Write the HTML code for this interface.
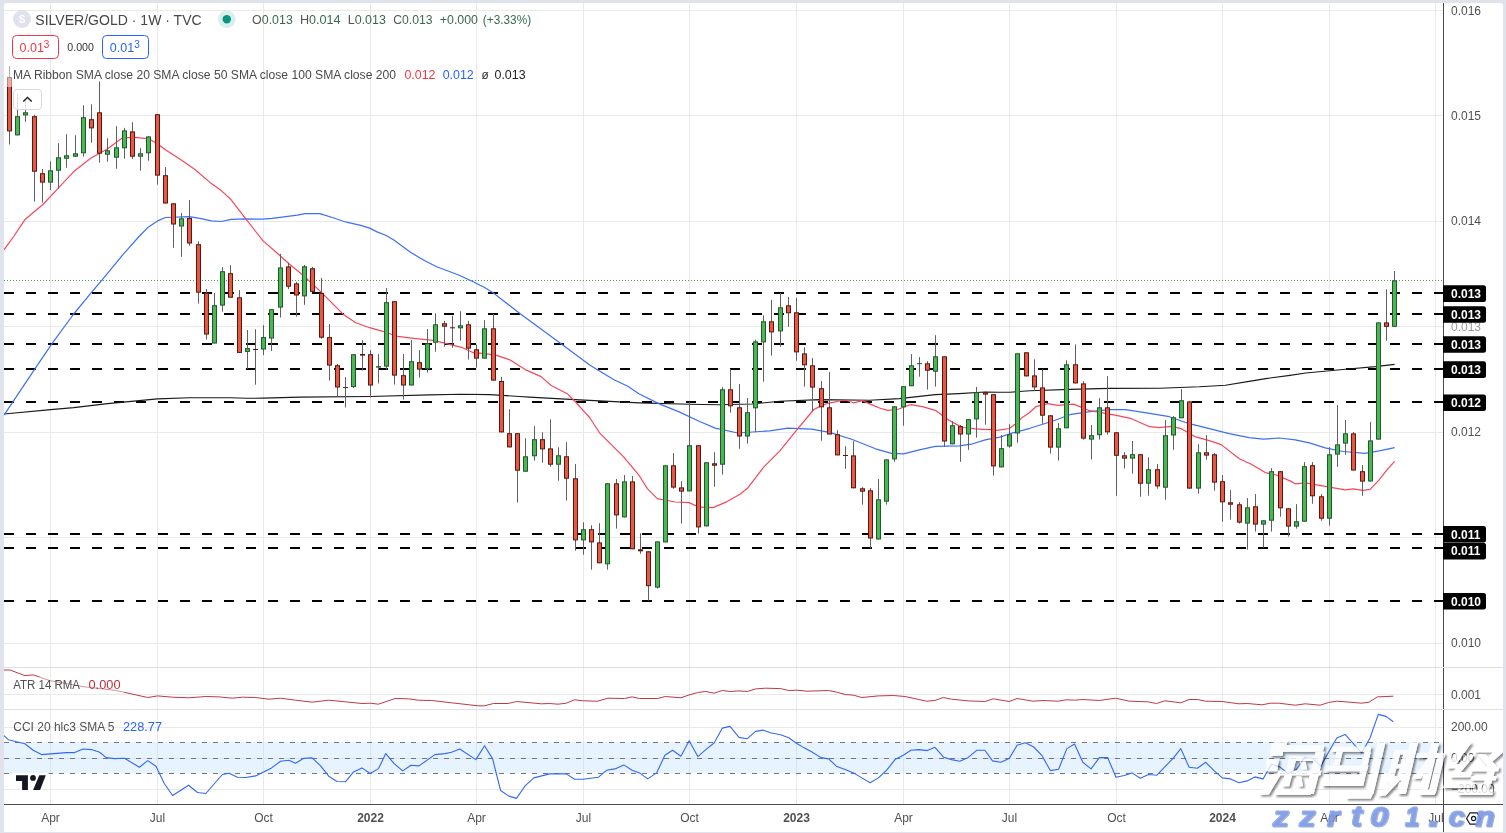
<!DOCTYPE html>
<html><head><meta charset="utf-8"><title>SILVER/GOLD</title>
<style>
html,body{margin:0;padding:0;background:#e0e3eb;font-family:"Liberation Sans",sans-serif;}
#wrap{position:relative;width:1506px;height:833px;overflow:hidden;background:#e0e3eb;}
</style></head><body><div id="wrap">
<svg width="1506" height="833" viewBox="0 0 1506 833" style="position:absolute;left:0;top:0;will-change:transform;font-family:'Liberation Sans',sans-serif">
<defs><clipPath id="cp"><rect x="4" y="3" width="1439" height="801"/></clipPath><filter id="ws" x="-10%" y="-10%" width="130%" height="130%"><feDropShadow dx="2.2" dy="2.2" stdDeviation="1.1" flood-color="#000" flood-opacity="0.55"/></filter></defs>
<path d="M4,832V6a3,3 0 0 1 3,-3H1500a3,3 0 0 1 3,3V832Z" fill="#fff"/>
<rect x="50" y="3" width="1" height="801" fill="#e9e9ea"/><rect x="157" y="3" width="1" height="801" fill="#e9e9ea"/><rect x="263" y="3" width="1" height="801" fill="#e9e9ea"/><rect x="370" y="3" width="1" height="801" fill="#e9e9ea"/><rect x="476" y="3" width="1" height="801" fill="#e9e9ea"/><rect x="583" y="3" width="1" height="801" fill="#e9e9ea"/><rect x="689" y="3" width="1" height="801" fill="#e9e9ea"/><rect x="796" y="3" width="1" height="801" fill="#e9e9ea"/><rect x="903" y="3" width="1" height="801" fill="#e9e9ea"/><rect x="1009" y="3" width="1" height="801" fill="#e9e9ea"/><rect x="1116" y="3" width="1" height="801" fill="#e9e9ea"/><rect x="1222" y="3" width="1" height="801" fill="#e9e9ea"/><rect x="1329" y="3" width="1" height="801" fill="#e9e9ea"/><rect x="1435" y="3" width="1" height="801" fill="#e9e9ea"/><rect x="4" y="10" width="1439" height="1" fill="#e9e9ea"/><rect x="4" y="115" width="1439" height="1" fill="#e9e9ea"/><rect x="4" y="221" width="1439" height="1" fill="#e9e9ea"/><rect x="4" y="326" width="1439" height="1" fill="#e9e9ea"/><rect x="4" y="432" width="1439" height="1" fill="#e9e9ea"/><rect x="4" y="537" width="1439" height="1" fill="#e9e9ea"/><rect x="4" y="643" width="1439" height="1" fill="#e9e9ea"/><rect x="4" y="694" width="1439" height="1" fill="#e9e9ea"/><rect x="4" y="727" width="1439" height="1" fill="#e9e9ea"/><rect x="4" y="758" width="1439" height="1" fill="#e9e9ea"/><rect x="4" y="789" width="1439" height="1" fill="#e9e9ea"/>
<rect x="4" y="742" width="1439" height="31.5" fill="#e7f3fe"/>
<rect x="50" y="742" width="1" height="31.5" fill="#d9e4ee"/>
<rect x="157" y="742" width="1" height="31.5" fill="#d9e4ee"/>
<rect x="263" y="742" width="1" height="31.5" fill="#d9e4ee"/>
<rect x="370" y="742" width="1" height="31.5" fill="#d9e4ee"/>
<rect x="476" y="742" width="1" height="31.5" fill="#d9e4ee"/>
<rect x="583" y="742" width="1" height="31.5" fill="#d9e4ee"/>
<rect x="689" y="742" width="1" height="31.5" fill="#d9e4ee"/>
<rect x="796" y="742" width="1" height="31.5" fill="#d9e4ee"/>
<rect x="903" y="742" width="1" height="31.5" fill="#d9e4ee"/>
<rect x="1009" y="742" width="1" height="31.5" fill="#d9e4ee"/>
<rect x="1116" y="742" width="1" height="31.5" fill="#d9e4ee"/>
<rect x="1222" y="742" width="1" height="31.5" fill="#d9e4ee"/>
<rect x="1329" y="742" width="1" height="31.5" fill="#d9e4ee"/>
<rect x="1435" y="742" width="1" height="31.5" fill="#d9e4ee"/>
<rect x="4" y="758" width="1439" height="1" fill="#dbe3ec"/>
<line x1="4" y1="742.5" x2="1443" y2="742.5" stroke="#73768a" stroke-width="1" stroke-dasharray="5 6"/>
<line x1="4" y1="758.5" x2="1443" y2="758.5" stroke="#73768a" stroke-width="1" stroke-dasharray="5 6"/>
<line x1="4" y1="773.5" x2="1443" y2="773.5" stroke="#73768a" stroke-width="1" stroke-dasharray="5 6"/>
<g clip-path="url(#cp)">
<line x1="4" y1="280.5" x2="1443" y2="280.5" stroke="#3aa640" stroke-width="1" stroke-dasharray="1 2"/>
<line x1="4" y1="293" x2="1443" y2="293" stroke="#000" stroke-width="2" stroke-dasharray="10 12"/>
<line x1="4" y1="314" x2="1443" y2="314" stroke="#000" stroke-width="2" stroke-dasharray="10 12"/>
<line x1="4" y1="344" x2="1443" y2="344" stroke="#000" stroke-width="2" stroke-dasharray="10 12"/>
<line x1="4" y1="369" x2="1443" y2="369" stroke="#000" stroke-width="2" stroke-dasharray="10 12"/>
<line x1="4" y1="402" x2="1443" y2="402" stroke="#000" stroke-width="2" stroke-dasharray="10 12"/>
<line x1="4" y1="534" x2="1443" y2="534" stroke="#000" stroke-width="2" stroke-dasharray="10 12"/>
<line x1="4" y1="548" x2="1443" y2="548" stroke="#000" stroke-width="2" stroke-dasharray="10 12"/>
<line x1="4" y1="601" x2="1443" y2="601" stroke="#000" stroke-width="2" stroke-dasharray="10 12"/>
<polyline points="4.0,414.0 50.8,409.6 73.7,407.6 107.6,403.6 157.5,398.9 189.4,397.7 229.2,397.7 247.2,398.3 263.1,398.1 300.0,397.1 369.7,396.5 429.5,394.9 461.4,394.3 489.8,394.6 519.7,396.5 529.2,397.1 579.5,399.9 639.3,402.9 689.2,404.3 719.1,404.7 740.0,404.3 751.8,404.0 779.7,401.2 819.6,399.6 869.4,400.2 899.3,398.6 935.2,394.6 959.1,393.6 985.0,392.0 1000.0,392.2 1009.9,392.2 1029.9,390.8 1069.7,389.4 1109.6,388.4 1159.4,388.2 1199.3,386.8 1225.5,385.2 1249.1,381.4 1265.8,378.6 1290.0,375.4 1305.7,373.0 1345.5,369.2 1375.4,366.6 1394.6,364.4" fill="none" stroke="#1a1a1a" stroke-width="1.1" stroke-linejoin="round" />
<polyline points="4.0,415.2 34.9,368.8 51.8,343.9 73.7,314.0 91.7,292.1 101.7,280.3 123.6,253.8 139.5,236.0 148.5,226.9 157.5,220.9 165.4,217.5 189.4,216.6 201.3,218.7 211.3,220.9 221.2,221.5 231.2,219.3 245.2,218.9 263.1,219.2 272.0,218.3 280.0,217.3 297.3,215.2 305.2,213.6 319.8,213.6 333.1,217.8 346.4,222.2 359.7,225.1 369.0,227.9 377.0,231.9 386.2,235.5 394.2,240.2 410.1,252.1 424.8,260.7 436.7,266.7 458.0,274.7 471.2,280.7 480.0,285.3 484.3,287.3 493.3,292.9 520.2,313.8 561.1,343.7 590.0,365.2 614.4,380.0 627.4,386.0 639.3,394.0 659.3,403.9 679.2,411.9 699.1,421.3 715.1,428.1 737.9,433.0 759.9,431.5 769.8,430.9 787.8,428.2 811.6,429.2 829.7,432.4 851.6,439.3 875.5,448.8 891.5,453.4 903.4,453.8 919.4,449.8 935.3,446.4 959.3,445.8 971.2,444.2 985.2,439.9 1000.0,437.1 1009.9,433.7 1029.9,428.3 1053.8,420.7 1069.7,414.7 1089.7,411.7 1109.6,409.7 1125.5,409.7 1149.5,413.3 1169.4,416.7 1189.3,423.7 1209.3,428.7 1229.2,433.6 1249.1,437.6 1263.2,439.2 1279.2,438.0 1295.3,439.9 1309.3,442.9 1325.2,447.9 1343.2,451.5 1365.1,453.3 1379.1,450.9 1394.6,447.6" fill="none" stroke="#3d6ff5" stroke-width="1.2" stroke-linejoin="round" />
<polyline points="4.0,249.8 14.0,236.0 25.3,219.2 42.9,204.5 57.8,188.6 74.7,170.7 90.7,158.3 107.6,148.7 122.6,137.8 135.5,137.4 148.5,138.8 157.5,143.7 165.4,149.7 179.4,158.7 195.3,169.7 211.3,183.6 221.2,190.6 231.2,199.8 245.2,218.2 263.1,240.9 279.0,254.8 289.0,263.8 300.0,272.8 306.0,277.9 321.9,292.9 343.8,314.8 355.8,322.8 369.7,327.7 383.7,331.7 397.6,336.3 413.6,338.3 433.5,340.3 449.5,344.3 461.4,347.3 473.4,352.7 485.3,353.6 497.3,355.6 509.3,359.6 525.2,369.6 541.1,376.6 551.1,385.5 567.3,393.7 577.0,403.5 583.5,410.9 590.0,418.0 599.5,432.8 623.4,456.7 639.3,475.7 647.3,488.6 657.3,498.6 675.2,502.0 689.2,502.6 699.1,507.2 713.1,507.6 727.0,501.6 740.0,494.3 748.0,487.7 763.9,466.8 779.9,450.8 796.8,429.9 813.8,409.5 819.6,406.6 825.7,404.0 831.6,402.6 839.7,401.0 845.5,400.2 853.6,402.8 862.5,400.6 871.4,404.6 879.5,408.0 887.5,410.3 897.4,409.5 909.4,405.0 911.3,404.6 923.3,406.8 935.3,410.3 947.3,418.9 949.2,420.5 959.3,425.9 963.1,427.5 975.2,428.9 979.1,429.1 990.0,429.7 997.1,430.3 1009.5,428.5 1019.1,420.9 1021.9,417.7 1029.0,413.0 1035.8,406.7 1047.8,403.7 1057.8,405.3 1073.7,404.1 1089.7,410.7 1105.6,413.3 1117.6,415.7 1131.5,418.7 1149.5,426.7 1159.4,427.7 1171.4,426.3 1181.3,428.7 1195.7,436.9 1209.3,440.6 1221.2,444.6 1239.3,458.7 1251.3,464.2 1265.2,472.6 1276.0,475.0 1290.0,480.9 1295.3,483.8 1305.3,482.8 1325.2,486.4 1345.2,489.8 1353.1,488.8 1363.1,490.4 1370.1,489.4 1379.1,479.8 1387.0,469.8 1394.6,461.3" fill="none" stroke="#f5475a" stroke-width="1.2" stroke-linejoin="round" />
<rect x="9" y="66.0" width="1" height="78.5" fill="#606066"/><rect x="7.5" y="77.5" width="4" height="53.4" fill="#e15a48" stroke="#5f140c" stroke-width="1"/><rect x="17" y="94.0" width="1" height="41.4" fill="#606066"/><rect x="15.5" y="116.7" width="4" height="18.2" fill="#4db552" stroke="#1e5a30" stroke-width="1"/><rect x="25" y="100.0" width="1" height="21.8" fill="#606066"/><rect x="23.5" y="112.8" width="4" height="2.1" fill="#4db552" stroke="#1e5a30" stroke-width="1"/><rect x="34" y="114.8" width="1" height="86.8" fill="#606066"/><rect x="32.5" y="116.7" width="4" height="54.5" fill="#e15a48" stroke="#5f140c" stroke-width="1"/><rect x="42" y="169.0" width="1" height="33.5" fill="#606066"/><rect x="40.5" y="173.7" width="4" height="8.4" fill="#e15a48" stroke="#5f140c" stroke-width="1"/><rect x="50" y="161.3" width="1" height="28.7" fill="#606066"/><rect x="48.5" y="170.8" width="4" height="11.3" fill="#4db552" stroke="#1e5a30" stroke-width="1"/><rect x="58" y="143.2" width="1" height="45.4" fill="#606066"/><rect x="56.5" y="157.8" width="4" height="12.4" fill="#4db552" stroke="#1e5a30" stroke-width="1"/><rect x="66" y="134.2" width="1" height="33.5" fill="#606066"/><rect x="64.5" y="155.8" width="4" height="2.4" fill="#4db552" stroke="#1e5a30" stroke-width="1"/><rect x="75" y="135.2" width="1" height="21.5" fill="#606066"/><rect x="73.5" y="153.8" width="4" height="2.4" fill="#4db552" stroke="#1e5a30" stroke-width="1"/><rect x="83" y="105.3" width="1" height="51.4" fill="#606066"/><rect x="81.5" y="117.7" width="4" height="35.1" fill="#4db552" stroke="#1e5a30" stroke-width="1"/><rect x="91" y="104.3" width="1" height="38.5" fill="#606066"/><rect x="89.5" y="119.7" width="4" height="8.2" fill="#e15a48" stroke="#5f140c" stroke-width="1"/><rect x="99" y="81.4" width="1" height="81.3" fill="#606066"/><rect x="97.5" y="112.8" width="4" height="40.4" fill="#e15a48" stroke="#5f140c" stroke-width="1"/><rect x="107" y="138.2" width="1" height="23.5" fill="#606066"/><rect x="105.5" y="150.8" width="4" height="3.4" fill="#4db552" stroke="#1e5a30" stroke-width="1"/><rect x="116" y="126.2" width="1" height="42.5" fill="#606066"/><rect x="114.5" y="147.8" width="4" height="9.4" fill="#4db552" stroke="#1e5a30" stroke-width="1"/><rect x="124" y="127.8" width="1" height="30.9" fill="#606066"/><rect x="122.5" y="130.9" width="4" height="16.9" fill="#4db552" stroke="#1e5a30" stroke-width="1"/><rect x="132" y="122.2" width="1" height="36.9" fill="#606066"/><rect x="130.5" y="131.9" width="4" height="24.3" fill="#e15a48" stroke="#5f140c" stroke-width="1"/><rect x="140" y="148.1" width="1" height="22.6" fill="#606066"/><rect x="138.5" y="153.8" width="4" height="2.4" fill="#4db552" stroke="#1e5a30" stroke-width="1"/><rect x="148" y="136.4" width="1" height="24.3" fill="#606066"/><rect x="146.5" y="136.9" width="4" height="15.9" fill="#4db552" stroke="#1e5a30" stroke-width="1"/><rect x="157" y="114.2" width="1" height="70.4" fill="#606066"/><rect x="155.5" y="114.7" width="4" height="60.4" fill="#e15a48" stroke="#5f140c" stroke-width="1"/><rect x="165" y="167.1" width="1" height="36.4" fill="#606066"/><rect x="163.5" y="175.7" width="4" height="27.3" fill="#e15a48" stroke="#5f140c" stroke-width="1"/><rect x="173" y="203.3" width="1" height="44.5" fill="#606066"/><rect x="171.5" y="203.8" width="4" height="20.2" fill="#e15a48" stroke="#5f140c" stroke-width="1"/><rect x="181" y="213.0" width="1" height="43.8" fill="#606066"/><rect x="179.5" y="218.8" width="4" height="7.2" fill="#4db552" stroke="#1e5a30" stroke-width="1"/><rect x="189" y="200.0" width="1" height="45.8" fill="#606066"/><rect x="187.5" y="218.4" width="4" height="24.6" fill="#e15a48" stroke="#5f140c" stroke-width="1"/><rect x="198" y="241.3" width="1" height="62.3" fill="#606066"/><rect x="196.5" y="244.7" width="4" height="47.5" fill="#e15a48" stroke="#5f140c" stroke-width="1"/><rect x="206" y="289.1" width="1" height="50.4" fill="#606066"/><rect x="204.5" y="293.2" width="4" height="40.8" fill="#e15a48" stroke="#5f140c" stroke-width="1"/><rect x="214" y="293.1" width="1" height="50.4" fill="#606066"/><rect x="212.5" y="305.7" width="4" height="37.3" fill="#4db552" stroke="#1e5a30" stroke-width="1"/><rect x="222" y="267.2" width="1" height="44.4" fill="#606066"/><rect x="220.5" y="271.7" width="4" height="33.4" fill="#4db552" stroke="#1e5a30" stroke-width="1"/><rect x="230" y="265.2" width="1" height="32.5" fill="#606066"/><rect x="228.5" y="273.7" width="4" height="23.5" fill="#e15a48" stroke="#5f140c" stroke-width="1"/><rect x="239" y="290.1" width="1" height="62.8" fill="#606066"/><rect x="237.5" y="297.8" width="4" height="54.6" fill="#e15a48" stroke="#5f140c" stroke-width="1"/><rect x="247" y="330.0" width="1" height="38.8" fill="#606066"/><rect x="245.5" y="348.6" width="4" height="2.8" fill="#4db552" stroke="#1e5a30" stroke-width="1"/><rect x="255" y="329.2" width="1" height="55.5" fill="#606066"/><rect x="253" y="349.0" width="5" height="1.0" fill="#5f140c"/><rect x="263" y="325.2" width="1" height="29.9" fill="#606066"/><rect x="261.5" y="337.6" width="4" height="11.4" fill="#4db552" stroke="#1e5a30" stroke-width="1"/><rect x="271" y="309.2" width="1" height="41.7" fill="#606066"/><rect x="269.5" y="309.7" width="4" height="28.3" fill="#4db552" stroke="#1e5a30" stroke-width="1"/><rect x="280" y="253.8" width="1" height="63.8" fill="#606066"/><rect x="278.5" y="267.9" width="4" height="39.2" fill="#4db552" stroke="#1e5a30" stroke-width="1"/><rect x="288" y="262.8" width="1" height="26.3" fill="#606066"/><rect x="286.5" y="266.9" width="4" height="19.3" fill="#e15a48" stroke="#5f140c" stroke-width="1"/><rect x="296" y="281.8" width="1" height="34.9" fill="#606066"/><rect x="294.5" y="283.9" width="4" height="11.1" fill="#e15a48" stroke="#5f140c" stroke-width="1"/><rect x="304" y="265.0" width="1" height="39.8" fill="#606066"/><rect x="302.5" y="266.8" width="4" height="29.1" fill="#4db552" stroke="#1e5a30" stroke-width="1"/><rect x="312" y="266.9" width="1" height="25.0" fill="#606066"/><rect x="310.5" y="268.8" width="4" height="22.6" fill="#e15a48" stroke="#5f140c" stroke-width="1"/><rect x="321" y="277.9" width="1" height="60.8" fill="#606066"/><rect x="319.5" y="293.4" width="4" height="43.8" fill="#e15a48" stroke="#5f140c" stroke-width="1"/><rect x="329" y="324.1" width="1" height="56.5" fill="#606066"/><rect x="327.5" y="337.6" width="4" height="27.5" fill="#e15a48" stroke="#5f140c" stroke-width="1"/><rect x="337" y="364.0" width="1" height="32.5" fill="#606066"/><rect x="335.5" y="365.7" width="4" height="21.3" fill="#e15a48" stroke="#5f140c" stroke-width="1"/><rect x="345" y="377.2" width="1" height="30.3" fill="#606066"/><rect x="343" y="387.1" width="5" height="1.0" fill="#5f140c"/><rect x="353" y="354.2" width="1" height="33.8" fill="#606066"/><rect x="351.5" y="354.7" width="4" height="31.9" fill="#4db552" stroke="#1e5a30" stroke-width="1"/><rect x="362" y="340.1" width="1" height="30.5" fill="#606066"/><rect x="360.5" y="354.5" width="4" height="0.6" fill="#e15a48" stroke="#5f140c" stroke-width="1"/><rect x="370" y="350.1" width="1" height="47.4" fill="#606066"/><rect x="368.5" y="354.7" width="4" height="30.3" fill="#e15a48" stroke="#5f140c" stroke-width="1"/><rect x="378" y="354.0" width="1" height="29.5" fill="#606066"/><rect x="376" y="366.2" width="5" height="1.4" fill="#1e5a30"/><rect x="386" y="287.9" width="1" height="81.7" fill="#606066"/><rect x="384.5" y="302.7" width="4" height="63.4" fill="#4db552" stroke="#1e5a30" stroke-width="1"/><rect x="394" y="301.2" width="1" height="83.3" fill="#606066"/><rect x="392.5" y="301.7" width="4" height="73.4" fill="#e15a48" stroke="#5f140c" stroke-width="1"/><rect x="403" y="354.0" width="1" height="45.5" fill="#606066"/><rect x="401.5" y="375.7" width="4" height="9.3" fill="#e15a48" stroke="#5f140c" stroke-width="1"/><rect x="411" y="340.1" width="1" height="45.4" fill="#606066"/><rect x="409.5" y="361.7" width="4" height="23.3" fill="#4db552" stroke="#1e5a30" stroke-width="1"/><rect x="419" y="350.1" width="1" height="27.5" fill="#606066"/><rect x="417.5" y="362.7" width="4" height="6.4" fill="#e15a48" stroke="#5f140c" stroke-width="1"/><rect x="427" y="329.1" width="1" height="43.5" fill="#606066"/><rect x="425.5" y="343.8" width="4" height="24.9" fill="#4db552" stroke="#1e5a30" stroke-width="1"/><rect x="435" y="313.2" width="1" height="38.5" fill="#606066"/><rect x="433.5" y="324.8" width="4" height="17.4" fill="#4db552" stroke="#1e5a30" stroke-width="1"/><rect x="444" y="320.8" width="1" height="25.9" fill="#606066"/><rect x="442.5" y="323.8" width="4" height="2.4" fill="#e15a48" stroke="#5f140c" stroke-width="1"/><rect x="452" y="315.8" width="1" height="31.9" fill="#606066"/><rect x="450" y="327.3" width="5" height="1.0" fill="#5f140c"/><rect x="460" y="311.2" width="1" height="29.5" fill="#606066"/><rect x="458.5" y="325.8" width="4" height="2.0" fill="#4db552" stroke="#1e5a30" stroke-width="1"/><rect x="468" y="320.8" width="1" height="38.8" fill="#606066"/><rect x="466.5" y="324.8" width="4" height="23.4" fill="#e15a48" stroke="#5f140c" stroke-width="1"/><rect x="476" y="344.7" width="1" height="22.9" fill="#606066"/><rect x="474.5" y="349.8" width="4" height="8.3" fill="#e15a48" stroke="#5f140c" stroke-width="1"/><rect x="484" y="320.2" width="1" height="38.4" fill="#606066"/><rect x="482.5" y="328.8" width="4" height="29.3" fill="#4db552" stroke="#1e5a30" stroke-width="1"/><rect x="493" y="314.2" width="1" height="66.4" fill="#606066"/><rect x="491.5" y="328.8" width="4" height="51.3" fill="#e15a48" stroke="#5f140c" stroke-width="1"/><rect x="501" y="377.0" width="1" height="55.4" fill="#606066"/><rect x="499.5" y="381.5" width="4" height="50.4" fill="#e15a48" stroke="#5f140c" stroke-width="1"/><rect x="509" y="409.3" width="1" height="38.1" fill="#606066"/><rect x="507.5" y="433.7" width="4" height="13.2" fill="#e15a48" stroke="#5f140c" stroke-width="1"/><rect x="517" y="433.2" width="1" height="69.4" fill="#606066"/><rect x="515.5" y="433.7" width="4" height="36.5" fill="#e15a48" stroke="#5f140c" stroke-width="1"/><rect x="525" y="438.2" width="1" height="33.5" fill="#606066"/><rect x="523.5" y="456.8" width="4" height="14.4" fill="#4db552" stroke="#1e5a30" stroke-width="1"/><rect x="534" y="426.2" width="1" height="34.5" fill="#606066"/><rect x="532.5" y="439.7" width="4" height="16.1" fill="#4db552" stroke="#1e5a30" stroke-width="1"/><rect x="542" y="432.2" width="1" height="30.5" fill="#606066"/><rect x="540.5" y="439.7" width="4" height="9.2" fill="#e15a48" stroke="#5f140c" stroke-width="1"/><rect x="550" y="419.3" width="1" height="47.4" fill="#606066"/><rect x="548.5" y="448.9" width="4" height="15.3" fill="#e15a48" stroke="#5f140c" stroke-width="1"/><rect x="558" y="447.2" width="1" height="33.5" fill="#606066"/><rect x="556.5" y="455.8" width="4" height="8.4" fill="#4db552" stroke="#1e5a30" stroke-width="1"/><rect x="566" y="442.2" width="1" height="58.4" fill="#606066"/><rect x="564.5" y="456.8" width="4" height="21.4" fill="#e15a48" stroke="#5f140c" stroke-width="1"/><rect x="575" y="464.1" width="1" height="86.6" fill="#606066"/><rect x="573.5" y="478.8" width="4" height="61.1" fill="#e15a48" stroke="#5f140c" stroke-width="1"/><rect x="583" y="522.2" width="1" height="32.5" fill="#606066"/><rect x="581.5" y="529.7" width="4" height="10.2" fill="#4db552" stroke="#1e5a30" stroke-width="1"/><rect x="591" y="525.2" width="1" height="44.5" fill="#606066"/><rect x="589.5" y="529.7" width="4" height="12.2" fill="#e15a48" stroke="#5f140c" stroke-width="1"/><rect x="599" y="523.2" width="1" height="40.1" fill="#606066"/><rect x="597.5" y="542.9" width="4" height="19.9" fill="#e15a48" stroke="#5f140c" stroke-width="1"/><rect x="607" y="483.3" width="1" height="86.4" fill="#606066"/><rect x="605.5" y="483.8" width="4" height="80.0" fill="#4db552" stroke="#1e5a30" stroke-width="1"/><rect x="616" y="479.0" width="1" height="49.6" fill="#606066"/><rect x="614.5" y="483.8" width="4" height="31.1" fill="#e15a48" stroke="#5f140c" stroke-width="1"/><rect x="624" y="475.0" width="1" height="42.4" fill="#606066"/><rect x="622.5" y="481.9" width="4" height="35.0" fill="#4db552" stroke="#1e5a30" stroke-width="1"/><rect x="632" y="476.0" width="1" height="73.3" fill="#606066"/><rect x="630.5" y="481.9" width="4" height="66.9" fill="#e15a48" stroke="#5f140c" stroke-width="1"/><rect x="640" y="533.2" width="1" height="20.5" fill="#606066"/><rect x="638.5" y="549.8" width="4" height="1.0" fill="#e15a48" stroke="#5f140c" stroke-width="1"/><rect x="648" y="551.3" width="1" height="49.3" fill="#606066"/><rect x="646.5" y="551.8" width="4" height="33.9" fill="#e15a48" stroke="#5f140c" stroke-width="1"/><rect x="657" y="541.4" width="1" height="47.2" fill="#606066"/><rect x="655.5" y="541.9" width="4" height="45.2" fill="#4db552" stroke="#1e5a30" stroke-width="1"/><rect x="665" y="465.3" width="1" height="77.1" fill="#606066"/><rect x="663.5" y="465.8" width="4" height="76.1" fill="#4db552" stroke="#1e5a30" stroke-width="1"/><rect x="673" y="453.2" width="1" height="35.6" fill="#606066"/><rect x="671.5" y="465.8" width="4" height="21.3" fill="#e15a48" stroke="#5f140c" stroke-width="1"/><rect x="681" y="481.2" width="1" height="42.4" fill="#606066"/><rect x="679.5" y="487.9" width="4" height="3.2" fill="#e15a48" stroke="#5f140c" stroke-width="1"/><rect x="689" y="401.9" width="1" height="89.5" fill="#606066"/><rect x="687.5" y="445.7" width="4" height="45.2" fill="#4db552" stroke="#1e5a30" stroke-width="1"/><rect x="698" y="445.2" width="1" height="88.4" fill="#606066"/><rect x="696.5" y="445.7" width="4" height="81.2" fill="#e15a48" stroke="#5f140c" stroke-width="1"/><rect x="706" y="462.3" width="1" height="64.1" fill="#606066"/><rect x="704.5" y="462.8" width="4" height="63.1" fill="#4db552" stroke="#1e5a30" stroke-width="1"/><rect x="714" y="452.2" width="1" height="34.5" fill="#606066"/><rect x="712.5" y="463.8" width="4" height="1.4" fill="#e15a48" stroke="#5f140c" stroke-width="1"/><rect x="722" y="387.1" width="1" height="87.5" fill="#606066"/><rect x="720.5" y="389.8" width="4" height="74.4" fill="#4db552" stroke="#1e5a30" stroke-width="1"/><rect x="730" y="369.1" width="1" height="43.6" fill="#606066"/><rect x="728.5" y="389.8" width="4" height="16.0" fill="#e15a48" stroke="#5f140c" stroke-width="1"/><rect x="739" y="384.0" width="1" height="64.8" fill="#606066"/><rect x="737.5" y="407.8" width="4" height="28.2" fill="#e15a48" stroke="#5f140c" stroke-width="1"/><rect x="747" y="398.0" width="1" height="45.7" fill="#606066"/><rect x="745.5" y="412.7" width="4" height="23.3" fill="#4db552" stroke="#1e5a30" stroke-width="1"/><rect x="755" y="339.8" width="1" height="92.4" fill="#606066"/><rect x="753.5" y="341.9" width="4" height="65.9" fill="#4db552" stroke="#1e5a30" stroke-width="1"/><rect x="763" y="315.3" width="1" height="66.4" fill="#606066"/><rect x="761.5" y="321.8" width="4" height="20.1" fill="#4db552" stroke="#1e5a30" stroke-width="1"/><rect x="771" y="299.9" width="1" height="55.8" fill="#606066"/><rect x="769.5" y="321.8" width="4" height="10.1" fill="#e15a48" stroke="#5f140c" stroke-width="1"/><rect x="780" y="293.0" width="1" height="53.8" fill="#606066"/><rect x="778.5" y="307.8" width="4" height="23.1" fill="#4db552" stroke="#1e5a30" stroke-width="1"/><rect x="788" y="296.9" width="1" height="29.9" fill="#606066"/><rect x="786.5" y="305.8" width="4" height="7.0" fill="#e15a48" stroke="#5f140c" stroke-width="1"/><rect x="796" y="297.9" width="1" height="62.8" fill="#606066"/><rect x="794.5" y="312.8" width="4" height="39.1" fill="#e15a48" stroke="#5f140c" stroke-width="1"/><rect x="804" y="347.2" width="1" height="39.4" fill="#606066"/><rect x="802.5" y="353.9" width="4" height="10.9" fill="#e15a48" stroke="#5f140c" stroke-width="1"/><rect x="812" y="358.1" width="1" height="53.2" fill="#606066"/><rect x="810.5" y="365.8" width="4" height="21.3" fill="#e15a48" stroke="#5f140c" stroke-width="1"/><rect x="821" y="381.1" width="1" height="59.6" fill="#606066"/><rect x="819.5" y="388.7" width="4" height="18.1" fill="#e15a48" stroke="#5f140c" stroke-width="1"/><rect x="829" y="372.1" width="1" height="62.4" fill="#606066"/><rect x="827.5" y="407.8" width="4" height="26.2" fill="#e15a48" stroke="#5f140c" stroke-width="1"/><rect x="837" y="430.2" width="1" height="25.2" fill="#606066"/><rect x="835.5" y="434.7" width="4" height="20.2" fill="#e15a48" stroke="#5f140c" stroke-width="1"/><rect x="845" y="446.2" width="1" height="22.6" fill="#606066"/><rect x="843" y="455.0" width="5" height="1.0" fill="#5f140c"/><rect x="853" y="441.2" width="1" height="47.1" fill="#606066"/><rect x="851.5" y="455.9" width="4" height="31.9" fill="#e15a48" stroke="#5f140c" stroke-width="1"/><rect x="862" y="487.1" width="1" height="17.5" fill="#606066"/><rect x="860.5" y="488.8" width="4" height="2.4" fill="#e15a48" stroke="#5f140c" stroke-width="1"/><rect x="870" y="488.1" width="1" height="60.4" fill="#606066"/><rect x="868.5" y="490.8" width="4" height="47.2" fill="#e15a48" stroke="#5f140c" stroke-width="1"/><rect x="878" y="479.1" width="1" height="60.4" fill="#606066"/><rect x="876.5" y="499.8" width="4" height="39.2" fill="#4db552" stroke="#1e5a30" stroke-width="1"/><rect x="886" y="459.4" width="1" height="45.2" fill="#606066"/><rect x="884.5" y="459.9" width="4" height="41.3" fill="#4db552" stroke="#1e5a30" stroke-width="1"/><rect x="894" y="406.3" width="1" height="55.5" fill="#606066"/><rect x="892.5" y="406.8" width="4" height="52.1" fill="#4db552" stroke="#1e5a30" stroke-width="1"/><rect x="903" y="386.2" width="1" height="39.5" fill="#606066"/><rect x="901.5" y="386.7" width="4" height="20.1" fill="#4db552" stroke="#1e5a30" stroke-width="1"/><rect x="911" y="354.1" width="1" height="32.1" fill="#606066"/><rect x="909.5" y="365.8" width="4" height="19.9" fill="#4db552" stroke="#1e5a30" stroke-width="1"/><rect x="919" y="357.1" width="1" height="19.6" fill="#606066"/><rect x="917" y="363.2" width="5" height="1.0" fill="#1e5a30"/><rect x="927" y="361.1" width="1" height="28.5" fill="#606066"/><rect x="925.5" y="363.8" width="4" height="6.4" fill="#e15a48" stroke="#5f140c" stroke-width="1"/><rect x="935" y="335.2" width="1" height="51.4" fill="#606066"/><rect x="933.5" y="356.8" width="4" height="14.4" fill="#4db552" stroke="#1e5a30" stroke-width="1"/><rect x="944" y="356.3" width="1" height="90.5" fill="#606066"/><rect x="942.5" y="356.8" width="4" height="84.2" fill="#e15a48" stroke="#5f140c" stroke-width="1"/><rect x="952" y="421.2" width="1" height="23.1" fill="#606066"/><rect x="950.5" y="425.7" width="4" height="18.1" fill="#4db552" stroke="#1e5a30" stroke-width="1"/><rect x="960" y="425.0" width="1" height="36.8" fill="#606066"/><rect x="958.5" y="426.7" width="4" height="7.3" fill="#e15a48" stroke="#5f140c" stroke-width="1"/><rect x="968" y="419.2" width="1" height="30.6" fill="#606066"/><rect x="966.5" y="419.7" width="4" height="14.3" fill="#4db552" stroke="#1e5a30" stroke-width="1"/><rect x="976" y="387.0" width="1" height="50.7" fill="#606066"/><rect x="974.5" y="392.7" width="4" height="26.2" fill="#4db552" stroke="#1e5a30" stroke-width="1"/><rect x="985" y="391.2" width="1" height="33.5" fill="#606066"/><rect x="983.5" y="392.7" width="4" height="1.4" fill="#e15a48" stroke="#5f140c" stroke-width="1"/><rect x="993" y="394.2" width="1" height="81.4" fill="#606066"/><rect x="991.5" y="394.7" width="4" height="71.2" fill="#e15a48" stroke="#5f140c" stroke-width="1"/><rect x="1001" y="435.1" width="1" height="32.3" fill="#606066"/><rect x="999.5" y="448.7" width="4" height="18.2" fill="#4db552" stroke="#1e5a30" stroke-width="1"/><rect x="1009" y="424.2" width="1" height="23.5" fill="#606066"/><rect x="1007.5" y="434.8" width="4" height="11.2" fill="#4db552" stroke="#1e5a30" stroke-width="1"/><rect x="1017" y="353.3" width="1" height="89.4" fill="#606066"/><rect x="1015.5" y="353.8" width="4" height="79.2" fill="#4db552" stroke="#1e5a30" stroke-width="1"/><rect x="1026" y="352.3" width="1" height="24.1" fill="#606066"/><rect x="1024.5" y="352.8" width="4" height="23.1" fill="#e15a48" stroke="#5f140c" stroke-width="1"/><rect x="1034" y="359.3" width="1" height="31.5" fill="#606066"/><rect x="1032.5" y="375.9" width="4" height="11.0" fill="#e15a48" stroke="#5f140c" stroke-width="1"/><rect x="1042" y="369.3" width="1" height="54.4" fill="#606066"/><rect x="1040.5" y="387.9" width="4" height="27.3" fill="#e15a48" stroke="#5f140c" stroke-width="1"/><rect x="1050" y="415.3" width="1" height="38.3" fill="#606066"/><rect x="1048.5" y="415.8" width="4" height="31.3" fill="#e15a48" stroke="#5f140c" stroke-width="1"/><rect x="1058" y="423.1" width="1" height="37.5" fill="#606066"/><rect x="1056.5" y="428.8" width="4" height="18.3" fill="#4db552" stroke="#1e5a30" stroke-width="1"/><rect x="1066" y="360.3" width="1" height="68.0" fill="#606066"/><rect x="1064.5" y="364.8" width="4" height="63.0" fill="#4db552" stroke="#1e5a30" stroke-width="1"/><rect x="1075" y="344.4" width="1" height="39.0" fill="#606066"/><rect x="1073.5" y="364.8" width="4" height="18.1" fill="#e15a48" stroke="#5f140c" stroke-width="1"/><rect x="1083" y="381.2" width="1" height="58.4" fill="#606066"/><rect x="1081.5" y="383.9" width="4" height="54.2" fill="#e15a48" stroke="#5f140c" stroke-width="1"/><rect x="1091" y="425.1" width="1" height="34.5" fill="#606066"/><rect x="1089.5" y="435.7" width="4" height="3.4" fill="#4db552" stroke="#1e5a30" stroke-width="1"/><rect x="1099" y="398.2" width="1" height="41.4" fill="#606066"/><rect x="1097.5" y="407.8" width="4" height="26.9" fill="#4db552" stroke="#1e5a30" stroke-width="1"/><rect x="1107" y="376.2" width="1" height="58.4" fill="#606066"/><rect x="1105.5" y="407.8" width="4" height="24.0" fill="#e15a48" stroke="#5f140c" stroke-width="1"/><rect x="1116" y="432.3" width="1" height="63.4" fill="#606066"/><rect x="1114.5" y="432.8" width="4" height="22.5" fill="#e15a48" stroke="#5f140c" stroke-width="1"/><rect x="1124" y="452.1" width="1" height="16.5" fill="#606066"/><rect x="1122.5" y="455.8" width="4" height="2.3" fill="#e15a48" stroke="#5f140c" stroke-width="1"/><rect x="1132" y="441.0" width="1" height="32.6" fill="#606066"/><rect x="1130.5" y="454.7" width="4" height="3.4" fill="#4db552" stroke="#1e5a30" stroke-width="1"/><rect x="1140" y="454.2" width="1" height="42.5" fill="#606066"/><rect x="1138.5" y="454.7" width="4" height="28.5" fill="#e15a48" stroke="#5f140c" stroke-width="1"/><rect x="1148" y="457.2" width="1" height="38.5" fill="#606066"/><rect x="1146.5" y="469.7" width="4" height="13.5" fill="#4db552" stroke="#1e5a30" stroke-width="1"/><rect x="1157" y="464.0" width="1" height="24.7" fill="#606066"/><rect x="1155.5" y="469.7" width="4" height="16.2" fill="#e15a48" stroke="#5f140c" stroke-width="1"/><rect x="1165" y="420.1" width="1" height="79.6" fill="#606066"/><rect x="1163.5" y="435.7" width="4" height="51.5" fill="#4db552" stroke="#1e5a30" stroke-width="1"/><rect x="1173" y="416.1" width="1" height="33.7" fill="#606066"/><rect x="1171.5" y="417.8" width="4" height="17.2" fill="#4db552" stroke="#1e5a30" stroke-width="1"/><rect x="1181" y="389.2" width="1" height="29.1" fill="#606066"/><rect x="1179.5" y="400.7" width="4" height="17.1" fill="#4db552" stroke="#1e5a30" stroke-width="1"/><rect x="1189" y="401.4" width="1" height="87.2" fill="#606066"/><rect x="1187.5" y="401.9" width="4" height="86.2" fill="#e15a48" stroke="#5f140c" stroke-width="1"/><rect x="1198" y="444.1" width="1" height="49.5" fill="#606066"/><rect x="1196.5" y="452.8" width="4" height="35.3" fill="#4db552" stroke="#1e5a30" stroke-width="1"/><rect x="1206" y="435.1" width="1" height="24.6" fill="#606066"/><rect x="1204.5" y="452.8" width="4" height="2.3" fill="#e15a48" stroke="#5f140c" stroke-width="1"/><rect x="1214" y="453.0" width="1" height="37.6" fill="#606066"/><rect x="1212.5" y="454.8" width="4" height="27.3" fill="#e15a48" stroke="#5f140c" stroke-width="1"/><rect x="1222" y="475.0" width="1" height="46.7" fill="#606066"/><rect x="1220.5" y="481.7" width="4" height="20.1" fill="#e15a48" stroke="#5f140c" stroke-width="1"/><rect x="1230" y="490.2" width="1" height="29.5" fill="#606066"/><rect x="1228.5" y="502.8" width="4" height="1.4" fill="#e15a48" stroke="#5f140c" stroke-width="1"/><rect x="1239" y="502.1" width="1" height="21.5" fill="#606066"/><rect x="1237.5" y="504.8" width="4" height="17.3" fill="#e15a48" stroke="#5f140c" stroke-width="1"/><rect x="1247" y="498.1" width="1" height="51.5" fill="#606066"/><rect x="1245.5" y="507.8" width="4" height="15.3" fill="#4db552" stroke="#1e5a30" stroke-width="1"/><rect x="1255" y="494.1" width="1" height="37.5" fill="#606066"/><rect x="1253.5" y="506.8" width="4" height="17.3" fill="#e15a48" stroke="#5f140c" stroke-width="1"/><rect x="1263" y="520.3" width="1" height="27.3" fill="#606066"/><rect x="1261.5" y="520.8" width="4" height="3.3" fill="#4db552" stroke="#1e5a30" stroke-width="1"/><rect x="1271" y="468.1" width="1" height="63.5" fill="#606066"/><rect x="1269.5" y="471.7" width="4" height="48.5" fill="#4db552" stroke="#1e5a30" stroke-width="1"/><rect x="1280" y="471.2" width="1" height="45.5" fill="#606066"/><rect x="1278.5" y="471.7" width="4" height="36.1" fill="#e15a48" stroke="#5f140c" stroke-width="1"/><rect x="1288" y="508.3" width="1" height="28.3" fill="#606066"/><rect x="1286.5" y="508.8" width="4" height="17.3" fill="#e15a48" stroke="#5f140c" stroke-width="1"/><rect x="1296" y="504.1" width="1" height="24.5" fill="#606066"/><rect x="1294.5" y="521.8" width="4" height="4.3" fill="#4db552" stroke="#1e5a30" stroke-width="1"/><rect x="1304" y="462.1" width="1" height="59.6" fill="#606066"/><rect x="1302.5" y="466.7" width="4" height="54.5" fill="#4db552" stroke="#1e5a30" stroke-width="1"/><rect x="1312" y="462.1" width="1" height="41.6" fill="#606066"/><rect x="1310.5" y="465.7" width="4" height="30.1" fill="#e15a48" stroke="#5f140c" stroke-width="1"/><rect x="1321" y="494.1" width="1" height="26.6" fill="#606066"/><rect x="1319.5" y="496.8" width="4" height="21.4" fill="#e15a48" stroke="#5f140c" stroke-width="1"/><rect x="1329" y="447.1" width="1" height="78.5" fill="#606066"/><rect x="1327.5" y="454.8" width="4" height="63.4" fill="#4db552" stroke="#1e5a30" stroke-width="1"/><rect x="1337" y="405.0" width="1" height="61.8" fill="#606066"/><rect x="1335.5" y="444.9" width="4" height="9.2" fill="#4db552" stroke="#1e5a30" stroke-width="1"/><rect x="1345" y="420.0" width="1" height="34.8" fill="#606066"/><rect x="1343.5" y="433.8" width="4" height="9.3" fill="#4db552" stroke="#1e5a30" stroke-width="1"/><rect x="1353" y="432.0" width="1" height="38.5" fill="#606066"/><rect x="1351.5" y="433.9" width="4" height="36.1" fill="#e15a48" stroke="#5f140c" stroke-width="1"/><rect x="1362" y="465.1" width="1" height="30.6" fill="#606066"/><rect x="1360.5" y="471.7" width="4" height="9.4" fill="#e15a48" stroke="#5f140c" stroke-width="1"/><rect x="1370" y="422.1" width="1" height="59.4" fill="#606066"/><rect x="1368.5" y="440.9" width="4" height="40.1" fill="#4db552" stroke="#1e5a30" stroke-width="1"/><rect x="1378" y="322.4" width="1" height="117.2" fill="#606066"/><rect x="1376.5" y="322.9" width="4" height="116.2" fill="#4db552" stroke="#1e5a30" stroke-width="1"/><rect x="1386" y="289.3" width="1" height="51.4" fill="#606066"/><rect x="1384.5" y="322.9" width="4" height="3.4" fill="#e15a48" stroke="#5f140c" stroke-width="1"/><rect x="1394" y="271.0" width="1" height="55.8" fill="#606066"/><rect x="1392.5" y="280.8" width="4" height="45.5" fill="#4db552" stroke="#1e5a30" stroke-width="1"/>
</g>
<polyline points="4.0,670.0 10.0,670.0 24.9,675.6 33.2,674.9 49.8,680.6 83.0,686.6 116.2,690.5 147.7,697.5 157.7,695.9 172.6,697.2 189.2,697.8 205.8,696.5 219.1,696.9 232.4,698.2 242.4,697.2 255.6,697.5 268.9,699.2 280.5,698.2 295.5,700.2 312.1,702.2 328.7,700.2 345.3,701.8 361.9,703.5 370.2,703.2 378.5,704.2 395.1,698.5 408.4,698.8 418.3,700.2 431.6,700.5 451.5,702.8 478.1,705.8 484.7,705.8 493.3,703.5 508.2,703.5 516.5,701.5 541.4,703.8 549.7,703.5 558.0,704.2 566.3,703.2 574.6,699.8 582.9,700.8 597.9,701.2 607.8,698.2 624.4,698.5 632.1,696.9 639.4,698.5 657.6,698.5 665.3,696.5 680.9,697.8 689.2,694.9 697.5,692.5 705.8,691.5 714.1,693.2 722.4,690.5 730.7,691.5 739.0,690.9 747.3,691.5 755.6,688.9 765.5,688.2 780.5,688.6 788.8,690.5 797.1,690.2 807.0,691.2 828.6,690.5 836.9,692.2 845.2,694.5 853.5,695.2 861.8,697.5 878.4,695.9 893.4,695.5 905.0,696.5 926.6,701.2 934.9,700.5 943.2,697.5 951.5,699.2 968.3,700.9 984.9,701.5 993.2,698.8 1009.1,701.5 1017.1,698.5 1033.0,701.2 1043.0,700.5 1057.9,701.2 1066.2,699.8 1074.5,700.2 1082.8,699.5 1099.4,700.5 1115.4,698.2 1129.3,701.2 1147.6,701.8 1156.5,703.5 1164.8,700.8 1180.8,702.8 1189.1,699.5 1197.4,699.5 1205.7,701.2 1222.3,701.5 1238.9,703.8 1247.2,703.5 1262.1,704.8 1270.4,703.2 1278.7,703.2 1295.3,705.2 1305.3,703.8 1320.2,705.2 1328.5,702.5 1336.8,701.2 1345.1,701.8 1361.7,703.2 1369.0,702.2 1377.3,696.9 1393.3,696.2" fill="none" stroke="#bd3a43" stroke-width="1.0" stroke-linejoin="round" />
<polyline points="4.0,735.7 8.3,739.7 24.9,743.7 33.2,750.3 41.5,754.6 66.4,752.6 74.7,752.6 83.0,749.0 91.3,749.6 99.6,752.3 106.2,757.6 114.5,758.6 124.5,758.3 139.4,767.2 147.7,760.6 156.0,766.2 164.3,783.5 172.6,795.5 188.6,785.2 197.5,792.5 205.8,793.5 222.4,774.5 229.1,773.2 237.4,777.2 245.7,777.5 255.6,775.9 270.6,768.6 280.5,761.3 288.8,760.3 295.5,763.3 303.8,758.3 312.1,757.9 320.4,765.6 328.7,776.2 337.0,781.5 345.3,781.8 353.6,771.9 361.9,767.9 370.2,773.5 378.5,768.6 385.8,753.6 394.1,763.6 402.7,770.9 411.0,765.2 419.0,765.9 434.9,754.6 444.9,753.6 451.5,752.3 459.8,749.0 475.8,759.6 484.6,745.8 492.6,758.9 500.6,790.5 508.9,796.1 516.5,798.4 524.8,786.2 533.8,777.9 549.7,773.9 566.3,773.9 574.6,779.2 582.9,779.2 598.5,777.2 606.8,770.2 616.1,768.6 623.8,764.9 632.1,770.2 639.4,772.9 647.7,778.9 656.6,772.9 664.9,755.3 672.6,750.3 680.9,756.3 689.2,740.7 697.8,756.6 705.8,749.6 714.1,743.0 722.4,728.1 730.0,726.4 739.0,737.4 747.3,738.7 755.6,731.4 762.9,730.1 770.5,732.7 780.5,734.7 788.8,737.7 796.1,743.0 803.7,747.6 812.0,752.0 821.0,757.6 828.6,758.9 836.9,766.6 845.2,769.6 853.5,772.9 861.8,777.9 870.1,782.8 878.4,777.9 886.7,770.2 895.0,759.6 903.3,755.3 910.9,750.3 918.9,749.6 927.2,750.6 934.9,747.3 943.8,757.3 951.5,759.6 959.8,761.3 968.3,757.4 976.6,750.3 984.9,750.3 992.5,760.9 1000.8,762.3 1009.1,758.6 1017.1,745.3 1025.4,742.7 1033.7,747.0 1042.0,755.6 1050.3,770.6 1058.6,769.2 1066.9,748.6 1074.5,744.0 1082.8,762.3 1091.1,768.9 1099.4,757.6 1107.7,757.6 1116.0,777.2 1124.3,775.5 1132.0,772.9 1140.3,778.2 1148.6,774.5 1156.9,775.2 1164.8,766.9 1173.1,758.3 1180.8,748.6 1189.1,767.2 1197.4,768.2 1205.7,762.3 1214.0,770.6 1222.3,777.9 1230.6,778.9 1238.9,782.8 1247.2,780.9 1254.8,776.9 1263.1,778.9 1271.4,763.9 1279.7,766.9 1288.0,773.5 1296.3,769.6 1304.6,757.3 1312.6,758.3 1320.9,766.2 1328.5,752.3 1336.8,738.0 1345.1,734.4 1361.7,753.0 1370.0,738.0 1378.3,714.4 1386.0,716.4 1393.3,721.8" fill="none" stroke="#3168f5" stroke-width="1.1" stroke-linejoin="round" />
<rect x="1443" y="3" width="1" height="829" fill="#4a4a4e"/>
<rect x="4" y="804" width="1499" height="1" fill="#4a4a4e"/>
<rect x="4" y="667" width="1499" height="1" fill="#dcdfea"/>
<rect x="4" y="709" width="1499" height="1" fill="#dcdfea"/>
<text x="1451" y="14.8" font-size="12" fill="#505050">0.016</text>
<text x="1451" y="120.0" font-size="12" fill="#505050">0.015</text>
<text x="1451" y="225.3" font-size="12" fill="#505050">0.014</text>
<text x="1451" y="436.3" font-size="12" fill="#505050">0.012</text>
<text x="1451" y="647.3" font-size="12" fill="#505050">0.010</text>
<text x="1451" y="330.7" font-size="12" fill="#9a9a9a">0.013</text>
<text x="1451" y="698.8" font-size="12" fill="#505050">0.001</text>
<text x="1451" y="730.8" font-size="12" fill="#505050">200.00</text>
<text x="1451" y="762.3" font-size="12" fill="#505050">0.00</text>
<text x="1451" y="793.3" font-size="12" fill="#505050">−200.00</text>
<path d="M1443,285.3H1483.5a2.5,2.5 0 0 1 2.5,2.5V299.4a2.5,2.5 0 0 1 -2.5,2.5H1443Z" fill="#000"/>
<text x="1451" y="297.9" font-size="12" font-weight="bold" fill="#fff">0.013</text>
<path d="M1443,306.2H1483.5a2.5,2.5 0 0 1 2.5,2.5V320.3a2.5,2.5 0 0 1 -2.5,2.5H1443Z" fill="#000"/>
<text x="1451" y="318.8" font-size="12" font-weight="bold" fill="#fff">0.013</text>
<path d="M1443,336.2H1483.5a2.5,2.5 0 0 1 2.5,2.5V350.3a2.5,2.5 0 0 1 -2.5,2.5H1443Z" fill="#000"/>
<text x="1451" y="348.8" font-size="12" font-weight="bold" fill="#fff">0.013</text>
<path d="M1443,361.3H1483.5a2.5,2.5 0 0 1 2.5,2.5V375.4a2.5,2.5 0 0 1 -2.5,2.5H1443Z" fill="#000"/>
<text x="1451" y="373.9" font-size="12" font-weight="bold" fill="#fff">0.013</text>
<path d="M1443,394.4H1483.5a2.5,2.5 0 0 1 2.5,2.5V408.5a2.5,2.5 0 0 1 -2.5,2.5H1443Z" fill="#000"/>
<text x="1451" y="407.0" font-size="12" font-weight="bold" fill="#fff">0.012</text>
<path d="M1443,526.0H1483.5a2.5,2.5 0 0 1 2.5,2.5V540.1a2.5,2.5 0 0 1 -2.5,2.5H1443Z" fill="#000"/>
<text x="1451" y="538.6" font-size="12" font-weight="bold" fill="#fff">0.011</text>
<path d="M1443,542.8H1483.5a2.5,2.5 0 0 1 2.5,2.5V556.9a2.5,2.5 0 0 1 -2.5,2.5H1443Z" fill="#000"/>
<text x="1451" y="555.4" font-size="12" font-weight="bold" fill="#fff">0.011</text>
<path d="M1443,593.0H1483.5a2.5,2.5 0 0 1 2.5,2.5V607.1a2.5,2.5 0 0 1 -2.5,2.5H1443Z" fill="#000"/>
<text x="1451" y="605.6" font-size="12" font-weight="bold" fill="#fff">0.010</text>
<text x="50.5" y="822" font-size="12" text-anchor="middle" fill="#505050">Apr</text>
<text x="157.5" y="822" font-size="12" text-anchor="middle" fill="#505050">Jul</text>
<text x="263.5" y="822" font-size="12" text-anchor="middle" fill="#505050">Oct</text>
<text x="370.5" y="822" font-size="12" text-anchor="middle" fill="#505050" font-weight="bold">2022</text>
<text x="476.5" y="822" font-size="12" text-anchor="middle" fill="#505050">Apr</text>
<text x="583.5" y="822" font-size="12" text-anchor="middle" fill="#505050">Jul</text>
<text x="689.5" y="822" font-size="12" text-anchor="middle" fill="#505050">Oct</text>
<text x="796.5" y="822" font-size="12" text-anchor="middle" fill="#505050" font-weight="bold">2023</text>
<text x="903.5" y="822" font-size="12" text-anchor="middle" fill="#505050">Apr</text>
<text x="1009.5" y="822" font-size="12" text-anchor="middle" fill="#505050">Jul</text>
<text x="1116.5" y="822" font-size="12" text-anchor="middle" fill="#505050">Oct</text>
<text x="1222.5" y="822" font-size="12" text-anchor="middle" fill="#505050" font-weight="bold">2024</text>
<text x="1329.5" y="822" font-size="12" text-anchor="middle" fill="#505050">Apr</text>
<text x="1436.0" y="822" font-size="12" text-anchor="middle" fill="#505050">Jul</text>
<g transform="translate(1473.6,818.5)" fill="none" stroke="#131722" stroke-width="1.2"><polygon points="-7,0 -3.6,-5.7 3.6,-5.7 7,0 3.6,5.7 -3.6,5.7"/><circle r="2.1"/></g>
<rect x="5" y="64" width="9" height="23" fill="#fff" fill-opacity="0.5"/>
<rect x="13.5" y="89.5" width="28" height="20" rx="3.5" fill="#fff" fill-opacity="0.8" stroke="#d6d9e3" stroke-width="1"/>
<polyline points="23.3,101.5 27.5,97.5 31.7,101.5" fill="none" stroke="#222" stroke-width="1.4"/>
<circle cx="22" cy="19" r="9" fill="#dfe2ec"/>
<text x="22" y="22.7" font-size="10" font-weight="bold" text-anchor="middle" fill="#fff">S</text>
<text x="35.3" y="24.7" font-size="14.3" fill="#464646" textLength="166.4" lengthAdjust="spacingAndGlyphs">SILVER/GOLD · 1W · TVC</text>
<circle cx="226.8" cy="19.2" r="8.8" fill="#d8efea"/><circle cx="226.8" cy="19.2" r="4.2" fill="#0a9580"/>
<text x="252.1" y="23.9" font-size="12.4" fill="#386a4d" textLength="40.7" lengthAdjust="spacingAndGlyphs"><tspan fill="#555">O</tspan>0.013</text>
<text x="299.9" y="23.9" font-size="12.4" fill="#386a4d" textLength="40.7" lengthAdjust="spacingAndGlyphs"><tspan fill="#555">H</tspan>0.014</text>
<text x="347.7" y="23.9" font-size="12.4" fill="#386a4d" textLength="38.3" lengthAdjust="spacingAndGlyphs"><tspan fill="#555">L</tspan>0.013</text>
<text x="393.2" y="23.9" font-size="12.4" fill="#386a4d" textLength="39.4" lengthAdjust="spacingAndGlyphs"><tspan fill="#555">C</tspan>0.013</text>
<text x="439.8" y="23.9" font-size="12.4" fill="#386a4d" textLength="38.2" lengthAdjust="spacingAndGlyphs">+0.000</text>
<text x="482.8" y="23.9" font-size="12.4" fill="#386a4d" textLength="48.3" lengthAdjust="spacingAndGlyphs">(+3.33%)</text>
<rect x="12.5" y="35.5" width="46" height="23" rx="4" fill="#fff" stroke="#f23645" stroke-width="1"/>
<text x="19.5" y="51.6" font-size="12.5" fill="#f23645">0.01<tspan dy="-3.5" font-size="10">3</tspan></text>
<text x="67.3" y="50.8" font-size="11.5" fill="#333" textLength="26.6" lengthAdjust="spacingAndGlyphs">0.000</text>
<rect x="102.5" y="35.5" width="46" height="23" rx="4" fill="#fff" stroke="#2962ff" stroke-width="1"/>
<text x="109.8" y="51.6" font-size="12.5" fill="#2962ff">0.01<tspan dy="-3.5" font-size="10">3</tspan></text>
<text x="13" y="78.8" font-size="12" fill="#4a4a4a" textLength="383.0" lengthAdjust="spacingAndGlyphs">MA Ribbon SMA close 20 SMA close 50 SMA close 100 SMA close 200</text>
<text x="404.4" y="78.8" font-size="12" fill="#f23645" textLength="31.1" lengthAdjust="spacingAndGlyphs">0.012</text>
<text x="442.7" y="78.8" font-size="12" fill="#2962ff" textLength="31.0" lengthAdjust="spacingAndGlyphs">0.012</text>
<text x="481.6" y="78.8" font-size="12" fill="#333" textLength="7.2" lengthAdjust="spacingAndGlyphs">ø</text>
<text x="494.5" y="78.8" font-size="12" fill="#222" textLength="31.1" lengthAdjust="spacingAndGlyphs">0.013</text>
<rect x="9" y="677" width="115" height="17" fill="#fff" fill-opacity="0.45"/>
<text x="13.3" y="689.3" font-size="12" fill="#505050" textLength="66.7" lengthAdjust="spacingAndGlyphs">ATR 14 RMA</text>
<text x="88.5" y="689.3" font-size="12" fill="#b8323a" textLength="32.0" lengthAdjust="spacingAndGlyphs">0.000</text>
<text x="13.3" y="731.3" font-size="12" fill="#505050" textLength="101.2" lengthAdjust="spacingAndGlyphs">CCI 20 hlc3 SMA 5</text>
<text x="123" y="731.3" font-size="12" fill="#2962ff" textLength="39.0" lengthAdjust="spacingAndGlyphs">228.77</text>
<rect x="9" y="773" width="39.6" height="12" fill="#fff"/><rect x="20" y="784" width="22.3" height="7" fill="#fff"/>
<g fill="#131722"><path d="M16,775.2H27.9V789.9H22.1V780.9H16Z"/><circle cx="33" cy="777.9" r="2.9"/><path d="M39.3,775.2H45.8L40.1,789.9H33.1Z"/></g>
<defs><filter id="wmf" x="-5%" y="-10%" width="110%" height="125%"><feOffset in="SourceAlpha" dx="1.6" dy="1.6" result="o"/><feGaussianBlur in="o" stdDeviation="0.8" result="b"/><feComposite in="b" in2="SourceAlpha" operator="out" result="sh"/><feComponentTransfer in="sh" result="sh2"><feFuncA type="linear" slope="0.48"/></feComponentTransfer><feComponentTransfer in="SourceGraphic" result="src2"><feFuncA type="linear" slope="0.78"/></feComponentTransfer><feMerge><feMergeNode in="sh2"/><feMergeNode in="src2"/></feMerge></filter><clipPath id="wmc"><rect x="1255" y="738" width="248" height="64"/></clipPath></defs><g clip-path="url(#wmc)"><g fill="#fff" filter="url(#wmf)"><polygon points="1271.4,742.7 1283.9,742.7 1282.5,755.7 1270.1,755.7"/><polygon points="1266.7,759.1 1278.7,759.1 1277.3,771.2 1265.2,771.2"/><polygon points="1272.7,774.3 1280.9,774.3 1268.8,794.5 1258.5,794.5"/><polygon points="1280.5,740.2 1287.8,740.2 1286.1,746.6 1278.7,746.6"/><polygon points="1283.1,745.3 1324.5,745.3 1322.8,751.8 1281.3,751.8"/><polygon points="1289.5,756.6 1321.5,756.6 1320.2,761.1 1288.2,761.1"/><polygon points="1289.5,756.6 1296.9,756.6 1289.1,786.3 1281.8,786.3"/><polygon points="1315.9,751.8 1324.5,751.8 1313.7,793.7 1305.1,793.7"/><polygon points="1278.3,770.8 1321.5,770.8 1320.2,775.3 1277.0,775.3"/><polygon points="1276.1,788.9 1312.4,788.9 1310.7,795.1 1274.4,795.1"/><polygon points="1299.9,761.7 1305.5,761.7 1307.2,769.5 1301.6,769.5"/><polygon points="1296.4,776.4 1301.2,776.4 1302.9,786.3 1298.2,786.3"/><polygon points="1332.7,746.6 1371.5,746.6 1370.1,751.8 1331.2,751.8"/><polygon points="1336.6,751.8 1342.6,751.8 1339.4,765.2 1333.4,765.2"/><polygon points="1364.8,751.8 1370.8,751.8 1367.5,765.6 1361.4,765.6"/><polygon points="1326.6,765.6 1368.3,765.6 1366.9,771.2 1325.3,771.2"/><polygon points="1360.1,771.2 1366.5,771.2 1363.1,785.9 1356.7,785.9"/><polygon points="1323.2,780.3 1363.3,780.3 1361.9,785.9 1321.8,785.9"/><polygon points="1377.7,742.1 1385.5,742.1 1373.4,793.7 1365.7,793.7"/><polygon points="1347.4,792.6 1373.4,792.6 1370.7,798.4 1345.6,798.4"/><polygon points="1394.6,750.1 1410.5,750.1 1409.5,754.6 1393.5,754.6"/><polygon points="1394.6,750.1 1401.2,750.1 1392.4,783.3 1385.8,783.3"/><polygon points="1404.5,750.1 1410.7,750.1 1402.9,779.9 1396.7,779.9"/><polygon points="1392.0,763.9 1407.5,763.9 1406.4,768.2 1390.8,768.2"/><polygon points="1389.8,776.0 1404.5,776.0 1403.5,780.3 1388.8,780.3"/><polygon points="1392.4,779.4 1400.6,779.4 1385.5,795.4 1377.3,795.4"/><polygon points="1399.1,782.5 1406.4,782.5 1404.9,793.7 1397.6,793.7"/><polygon points="1410.5,741.5 1418.3,741.5 1405.8,794.1 1398.0,794.1"/><polygon points="1417.4,753.1 1444.2,753.1 1442.9,758.0 1416.1,758.0"/><polygon points="1431.2,743.2 1439.0,743.2 1426.5,794.1 1418.7,794.1"/><polygon points="1427.8,758.3 1434.7,758.3 1420.9,778.6 1412.3,778.6"/><polygon points="1438.2,753.5 1445.1,753.5 1435.6,793.2 1428.7,793.2"/><polygon points="1420.9,789.8 1435.6,789.8 1434.3,795.0 1419.6,795.0"/><polygon points="1463.2,742.3 1471.8,742.3 1456.3,763.9 1447.6,763.9"/><polygon points="1447.6,763.9 1463.2,763.9 1461.9,768.2 1446.4,768.2"/><polygon points="1467.5,754.4 1475.3,754.4 1458.9,774.3 1451.1,774.3"/><polygon points="1451.1,772.5 1471.8,772.5 1470.5,777.3 1449.8,777.3"/><polygon points="1444.2,782.9 1475.3,782.9 1474.0,788.1 1442.9,788.1"/><polygon points="1475.3,747.5 1503.8,747.5 1502.5,752.2 1474.0,752.2"/><polygon points="1496.8,747.5 1505.5,743.2 1505.5,750.1 1490.8,763.0 1483.9,763.0"/><polygon points="1477.9,754.4 1485.6,754.4 1496.8,766.5 1488.2,766.5"/><polygon points="1471.0,766.5 1499.4,766.5 1498.1,771.2 1469.7,771.2"/><polygon points="1487.4,771.2 1494.7,771.2 1488.2,793.2 1480.9,793.2"/><polygon points="1471.8,776.0 1496.8,776.0 1495.6,780.3 1470.5,780.3"/><polygon points="1458.9,789.8 1493.4,789.8 1492.1,795.0 1457.6,795.0"/></g></g>
<g font-weight="bold" font-style="italic" fill="#5f74b0" stroke="#5f74b0" stroke-width="1.1" opacity="0.55" transform="translate(1.2,1.2)"><text transform="translate(1272.50,825.6) scale(1.138,1.011)" font-size="28.0">z</text><text transform="translate(1299.00,825.6) scale(1.145,1.011)" font-size="28.0">z</text><text transform="translate(1326.66,825.6) scale(1.142,0.998)" font-size="28.0">r</text><text transform="translate(1350.67,825.6) scale(1.190,1.050)" font-size="28.0">t</text><text transform="translate(1369.78,825.6) scale(1.176,0.984)" font-size="28.0">0</text><text transform="translate(1404.76,825.6) scale(0.919,0.998)" font-size="28.0">1</text><text transform="translate(1428.28,825.6) scale(1.429,1.119)" font-size="28.0">.</text><text transform="translate(1448.32,825.6) scale(1.050,0.998)" font-size="28.0">c</text><text transform="translate(1475.16,825.6) scale(1.130,0.998)" font-size="28.0">n</text></g>
<g font-weight="bold" font-style="italic" fill="#7f9eec" stroke="#7f9eec" stroke-width="1.1" opacity="0.82"><text transform="translate(1272.50,825.6) scale(1.138,1.011)" font-size="28.0">z</text><text transform="translate(1299.00,825.6) scale(1.145,1.011)" font-size="28.0">z</text><text transform="translate(1326.66,825.6) scale(1.142,0.998)" font-size="28.0">r</text><text transform="translate(1350.67,825.6) scale(1.190,1.050)" font-size="28.0">t</text><text transform="translate(1369.78,825.6) scale(1.176,0.984)" font-size="28.0">0</text><text transform="translate(1404.76,825.6) scale(0.919,0.998)" font-size="28.0">1</text><text transform="translate(1428.28,825.6) scale(1.429,1.119)" font-size="28.0">.</text><text transform="translate(1448.32,825.6) scale(1.050,0.998)" font-size="28.0">c</text><text transform="translate(1475.16,825.6) scale(1.130,0.998)" font-size="28.0">n</text></g>
</svg>
<!--WM-->
</div></body></html>
